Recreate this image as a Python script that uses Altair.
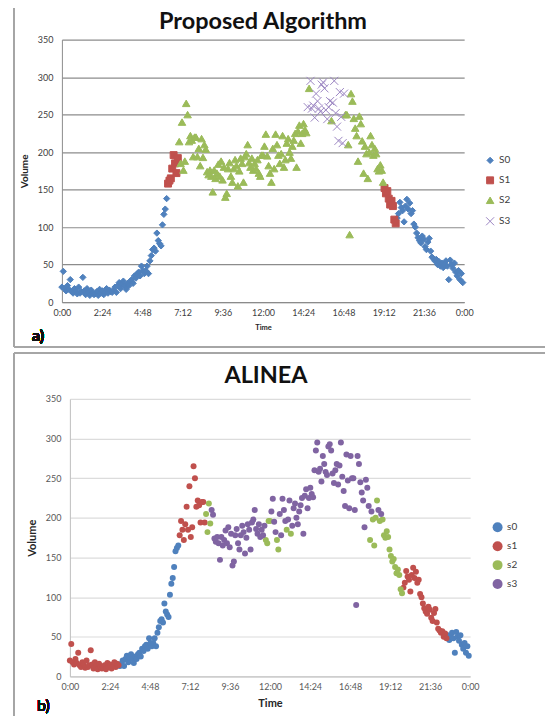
import altair as alt
import pandas as pd

# ---- data: traffic volume every 5 minutes ----
vol_00_06 = [
    20, 41, 18, 15, 22, 17, 30, 14, 12, 18, 15, 11,
    20, 12, 14, 33, 15, 10, 18, 13, 9, 16, 12, 10,
    11, 14, 9, 17, 12, 15, 10, 13, 18, 12, 16, 14,
    13, 16, 20, 13, 22, 26, 18, 24, 28, 22, 17, 25,
    22, 28, 30, 25, 35, 32, 38, 40, 35, 48, 42, 38,
    42, 48, 38, 55, 62, 70, 72, 68, 92, 82, 78, 75,
]
vol_06_12 = [
    103, 117, 124, 138, 158, 162, 165, 178, 196, 185, 172, 192,
    214, 185, 240, 176, 188, 265, 250, 214, 222, 216, 194, 220,
    220, 194, 205, 182, 218, 193, 210, 204, 174, 170, 176, 168,
    147, 176, 165, 172, 184, 168, 188, 163, 180, 140, 145, 178,
    186, 168, 160, 178, 190, 182, 155, 175, 192, 185, 160, 194,
    198, 210, 186, 180, 192, 176, 185, 178, 190, 172, 168, 196,
]
vol_12_18 = [
    196, 208, 224, 195, 182, 172, 160, 205, 178, 224, 210, 196,
    185, 198, 222, 180, 190, 212, 218, 200, 192, 208, 216, 225,
    180, 228, 236, 212, 225, 238, 230, 226, 260, 285, 295, 258,
    262, 246, 278, 268, 258, 254, 290, 293, 285, 256, 244, 260,
    268, 242, 266, 295, 252, 234, 215, 280, 247, 212, 278, 250,
    250, 210, 90, 278, 268, 245, 232, 222, 188, 248, 238, 215,
]
vol_18_24 = [
    172, 208, 198, 165, 200, 222, 210, 196, 205, 198, 178, 175,
    183, 176, 160, 152, 145, 148, 138, 130, 135, 128, 110, 105,
    112, 118, 133, 126, 122, 107, 128, 137, 124, 132, 118, 122,
    104, 100, 92, 86, 82, 79, 88, 84, 74, 70, 80, 85,
    68, 60, 58, 55, 57, 50, 54, 48, 52, 46, 50, 55,
    48, 30, 56, 50, 45, 52, 40, 35, 42, 30, 38, 26,
]

# state of each sample, as runs of (state, number of samples)
proposed_runs = [("S0", 76), ("S1", 8), ("S2", 92), ("S3", 1), ("S2", 1),
                 ("S3", 15), ("S2", 1), ("S3", 9), ("S2", 28), ("S1", 9),
                 ("S0", 48)]
alinea_runs = [("s1", 36), ("s0", 43), ("s1", 19), ("s2", 4), ("s3", 39),
               ("s2", 4), ("s3", 4), ("s2", 2), ("s3", 5), ("s2", 1),
               ("s3", 2), ("s2", 1), ("s3", 56), ("s2", 1), ("s3", 1),
               ("s2", 4), ("s3", 1), ("s2", 1), ("s3", 1), ("s2", 15),
               ("s1", 32), ("s0", 16)]

time_labels = ["0:00", "2:24", "4:48", "7:12", "9:36", "12:00",
               "14:24", "16:48", "19:12", "21:36", "0:00"]
tick_hours = [0, 2.4, 4.8, 7.2, 9.6, 12, 14.4, 16.8, 19.2, 21.6, 24]

# ---- build tables ----
volume = vol_00_06 + vol_06_12 + vol_12_18 + vol_18_24
hours = [i * 5 / 60 for i in range(len(volume))]


def expand(runs):
    out = []
    for s, n in runs:
        out += [s] * n
    return out


top_df = pd.DataFrame({"t": hours, "v": volume, "state": expand(proposed_runs)})
top_df = top_df.sort_values("state", kind="stable")
bot_df = pd.DataFrame({"t": hours, "v": volume, "state": expand(alinea_runs)})
bot_df = bot_df.sort_values("state", kind="stable")

BLUE, RED, GREEN, PURPLE = "#4F81BD", "#C0504D", "#9BBB59", "#8064A2"
FRAME = "#a6a6a6"
label_expr = "[" + ",".join("'%s'" % s for s in time_labels) + "][round(datum.value / 2.4)]"
FONT = "Lato"


def x_axis(grid_dom, label_col, title_size):
    return alt.Axis(values=tick_hours, labelExpr=label_expr, title="Time",
                    grid=False, ticks=False, domainColor=grid_dom,
                    labelFlush=False, labelOverlap=False,
                    labelFontSize=9, labelColor=label_col, labelFont=FONT,
                    labelPadding=6, titleFont=FONT, titleFontSize=title_size,
                    titleFontWeight="bold", titleColor="#262626", titlePadding=6)


def y_axis(grid_col, grid_dom, offset, label_col, title_size):
    return alt.Axis(values=list(range(0, 351, 50)), title="Volume",
                    gridColor=grid_col, gridWidth=1.2, ticks=False, offset=offset,
                    domainColor=grid_dom, labelFontSize=9, labelColor=label_col,
                    labelFont=FONT, labelPadding=9, titleFont=FONT,
                    titleFontSize=title_size, titleFontWeight="bold",
                    titleColor="#262626", titlePadding=8)


def legend(x, y):
    return alt.Legend(title=None, orient="none", legendX=x, legendY=y,
                      labelFontSize=10, labelFont=FONT, labelColor="#404040",
                      rowPadding=8, symbolStrokeWidth=1)


def frame(df, left, top, bottom, right, with_bottom):
    base = alt.Chart(df).mark_rule(color=FRAME, strokeWidth=1.2)
    layers = [base.encode(x=alt.value(left), y=alt.value(top), y2=alt.value(bottom))]
    if with_bottom:
        layers.append(base.encode(x=alt.value(left), x2=alt.value(right),
                                  y=alt.value(bottom)))
    else:
        layers.append(base.encode(x=alt.value(left), x2=alt.value(right),
                                  y=alt.value(top)))
    return layers


dom_p = ["S0", "S1", "S2", "S3"]
top_points = alt.Chart(top_df).mark_point(opacity=1, strokeWidth=1).encode(
    x=alt.X("t:Q", scale=alt.Scale(domain=[0, 24], nice=False),
            axis=x_axis("#8c8c8c", "#404040", 7.5)),
    y=alt.Y("v:Q", scale=alt.Scale(domain=[0, 350], nice=False),
            axis=y_axis("#8c8c8c", "#8c8c8c", 0, "#404040", 10)),
    shape=alt.Shape("state:N", scale=alt.Scale(
        domain=dom_p, range=["diamond", "square", "triangle-up",
                             "M-1,-1L1,1M-1,1L1,-1"]), legend=legend(424, 116)),
    fill=alt.Fill("state:N", scale=alt.Scale(
        domain=dom_p, range=[BLUE, RED, GREEN, "transparent"]), legend=legend(424, 116)),
    stroke=alt.Stroke("state:N", scale=alt.Scale(
        domain=dom_p, range=[BLUE, RED, GREEN, "#9C86C2"]), legend=legend(424, 116)),
    size=alt.Size("state:N", scale=alt.Scale(
        domain=dom_p, range=[40, 65, 60, 85]), legend=legend(424, 116)),
)
top_label = alt.Chart(top_df).mark_text(
    text="a)", fontSize=16, font=FONT, fontWeight="bold", align="left",
    baseline="middle", color="#111111").encode(x=alt.value(-30), y=alt.value(297))

top = alt.layer(top_points, top_label, *frame(top_df, -48, -32, 308, 484, True)).properties(
    width=403, height=263,
    title=alt.TitleParams("Proposed Algorithm", font=FONT, fontSize=23.5,
                          fontWeight="bold", color="#111111", offset=-26,
                          anchor="middle", frame="group"))

# bottom panel sits 8px further right than the top one inside the same column
dom_a = ["s0", "s1", "s2", "s3"]
bot_points = alt.Chart(bot_df).mark_circle(opacity=1, size=36).encode(
    x=alt.X("t:Q", scale=alt.Scale(domain=[0, 24], nice=False, range=[8, 409]),
            axis=x_axis("#bfbfbf", "#595959", 11)),
    y=alt.Y("v:Q", scale=alt.Scale(domain=[0, 350], nice=False),
            axis=y_axis("#dcdcdc", "#bfbfbf", -8, "#595959", 11)),
    color=alt.Color("state:N", scale=alt.Scale(
        domain=dom_a, range=[BLUE, RED, GREEN, PURPLE]), legend=legend(431, 123)),
)
bot_label = alt.Chart(bot_df).mark_text(
    text="b)", fontSize=16, font=FONT, align="left", baseline="middle",
    color="#111111").encode(x=alt.value(-25), y=alt.value(308))

bottom = alt.layer(bot_points, bot_label, *frame(bot_df, -48, -46, 317, 484, False)).properties(
    width=409, height=278,
    title=alt.TitleParams("ALINEA", font=FONT, fontSize=23.5, fontWeight="bold",
                          color="#111111", offset=-35, anchor="middle", frame="group"))

chart = alt.concat(top, bottom, columns=1, spacing=4).resolve_scale(
    color="independent", shape="independent", fill="independent",
    stroke="independent", size="independent", x="independent", y="independent"
).configure_view(strokeWidth=0).properties(
    background="white", padding={"left": 5, "top": -2, "right": 0, "bottom": 0})

chart.save("out.html", embed_options={"renderer": "svg", "actions": False})
